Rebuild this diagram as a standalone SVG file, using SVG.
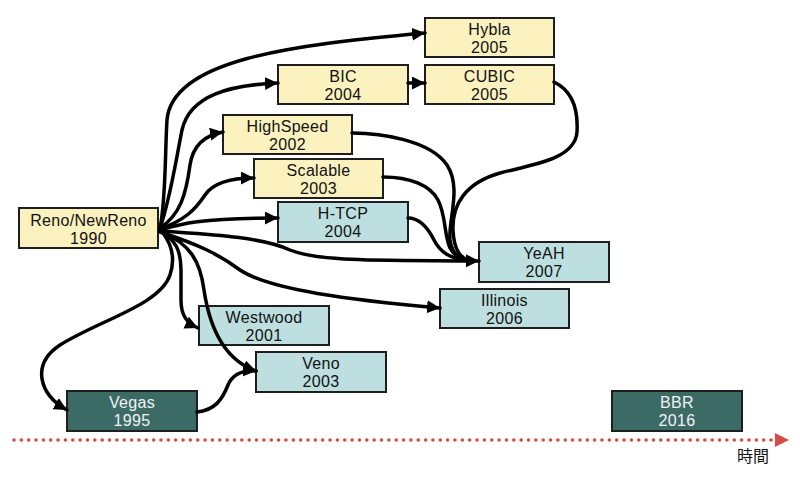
<svg xmlns="http://www.w3.org/2000/svg" width="800" height="478" viewBox="0 0 800 478">
<style>
.box{stroke:#1e1e1e;stroke-width:2}
.y{fill:#fbf2bf}
.b{fill:#bddfe0}
.d{fill:#3c6b66}
.t{font-family:"Liberation Sans",Arial,sans-serif;font-size:16px;letter-spacing:0.3px;text-anchor:middle;fill:#111}
.w{fill:#f2f2f2}
.c{fill:none;stroke:#000;stroke-width:3.5;stroke-linecap:round}
.a{marker-end:url(#ah)}
</style>
<defs>
<marker id="ah" markerUnits="userSpaceOnUse" markerWidth="16" markerHeight="16" refX="13" refY="6.5" orient="auto" viewBox="0 0 16 16">
<path d="M0,0 L13,6.5 L0,13 Z" fill="#000"/>
</marker>
</defs>
<g id="timeline">
<line x1="14" y1="440" x2="774" y2="440" stroke="#d94a44" stroke-width="3.6" stroke-linecap="round" stroke-dasharray="0 7.35"/>
<polygon points="775,433 789,440 775,447" fill="#d94a44"/>
<text x="753" y="462" font-family="'Noto Sans CJK JP',sans-serif" font-size="16" text-anchor="middle" fill="#111">時間</text>
</g>
<g id="reno"><rect class="box y" x="19" y="208" width="139" height="40"/><text class="t" x="88.5" y="226">Reno/NewReno<tspan x="88.5" dy="18">1990</tspan></text></g>
<g id="hybla"><rect class="box y" x="425" y="18" width="129" height="39"/><text class="t" x="489.5" y="34.5">Hybla<tspan x="489.5" dy="18">2005</tspan></text></g>
<g id="bic"><rect class="box y" x="278" y="65" width="130" height="39"/><text class="t" x="343" y="81.5">BIC<tspan x="343" dy="18">2004</tspan></text></g>
<g id="cubic"><rect class="box y" x="425" y="65" width="129" height="39"/><text class="t" x="489.5" y="81.5">CUBIC<tspan x="489.5" dy="18">2005</tspan></text></g>
<g id="highspeed"><rect class="box y" x="223" y="115" width="129" height="39"/><text class="t" x="287.5" y="131.5">HighSpeed<tspan x="287.5" dy="18">2002</tspan></text></g>
<g id="scalable"><rect class="box y" x="254" y="159" width="129" height="39"/><text class="t" x="318.5" y="175.5">Scalable<tspan x="318.5" dy="18">2003</tspan></text></g>
<g id="htcp"><rect class="box b" x="278" y="202" width="130" height="40"/><text class="t" x="343" y="218.5">H-TCP<tspan x="343" dy="18">2004</tspan></text></g>
<g id="yeah"><rect class="box b" x="479" y="242" width="130" height="40"/><text class="t" x="544" y="258.5">YeAH<tspan x="544" dy="18">2007</tspan></text></g>
<g id="illinois"><rect class="box b" x="440" y="289" width="129" height="39"/><text class="t" x="504.5" y="305.5">Illinois<tspan x="504.5" dy="18">2006</tspan></text></g>
<g id="westwood"><rect class="box b" x="199" y="306" width="130" height="39"/><text class="t" x="264" y="322.5">Westwood<tspan x="264" dy="18">2001</tspan></text></g>
<g id="veno"><rect class="box b" x="256" y="352" width="130" height="40"/><text class="t" x="321" y="368.5">Veno<tspan x="321" dy="18">2003</tspan></text></g>
<g id="vegas"><rect class="box d" x="67" y="391" width="130" height="40"/><text class="t w" x="132" y="407.5">Vegas<tspan x="132" dy="18">1995</tspan></text></g>
<g id="bbr"><rect class="box d" x="612" y="391" width="130" height="40"/><text class="t w" x="677" y="407.5">BBR<tspan x="677" dy="18">2016</tspan></text></g>
<g id="connectors">
<path class="c a" d="M160,228 C166,200 165,150 167,120 C172,60 290,45 425,33"/>
<path class="c a" d="M160,228 C170,200 176,160 182,130 C190,95 230,85 278,83"/>
<path class="c a" d="M160,228 C180,215 186,195 190,165 C193,145 205,135 223,132"/>
<path class="c a" d="M160,229 C185,220 195,210 205,195 C213,183 230,178 254,178"/>
<path class="c a" d="M160,230 C180,224 200,218 278,218"/>
<path class="c a" d="M408,83 L425,83"/>
<path class="c a" d="M160,231 C200,234 260,236 290,250 C320,262 380,260 479,261"/>
<path class="c a" d="M160,232 C200,245 220,255 240,270 C270,290 350,300 440,308"/>
<path class="c a" d="M162,232 C175,240 181,250 181,270 L181,300 C181,316 187,323 198,328"/>
<path class="c a" d="M163,232 C190,245 200,260 204,290 C210,330 225,360 256,371"/>
<path class="c a" d="M163,233 C172,245 175,260 170,275 C160,305 100,320 60,345 C30,365 40,395 67,410"/>
<path class="c a" d="M197,412 C215,410 222,400 228,385 C233,374 242,370 256,371"/>
<path class="c" d="M554,82 C575,92 578,115 577,132 C575,160 530,165 500,173 C465,183 452,205 453,230 C454,250 460,258 470,261"/>
<path class="c" d="M352,133 C380,133 430,140 447,165 C462,188 448,220 450,240 C452,255 460,260 470,261"/>
<path class="c" d="M383,177 C410,177 430,185 438,200 C446,215 444,235 450,248 C455,257 462,260 470,261"/>
<path class="c" d="M408,218 C420,218 428,228 434,240 C440,252 450,259 470,261"/>
</g>
</svg>
